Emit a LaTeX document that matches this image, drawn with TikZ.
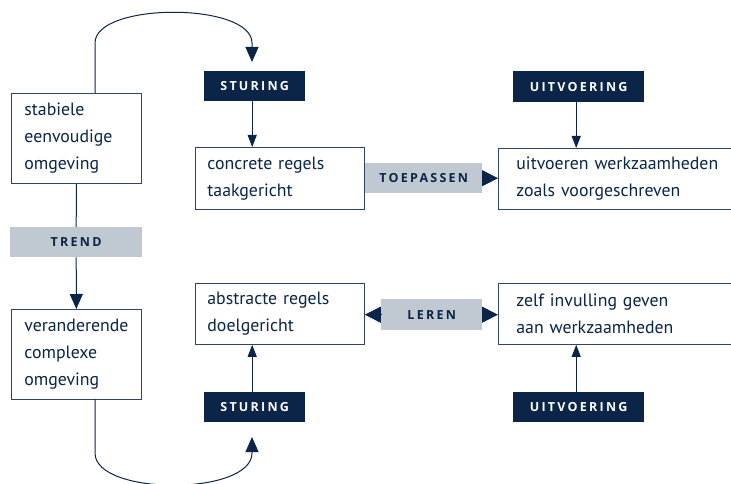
\documentclass[tikz,border=0pt]{standalone}
\usepackage{fontspec}
\setmainfont{PT Sans}
\newfontfamily\labfont{Open Sans}
\usetikzlibrary{arrows.meta}
\definecolor{navy}{RGB}{10,37,72}
\definecolor{lgrey}{RGB}{192,200,210}
\begin{document}
\begin{tikzpicture}[x=1pt,y=-1pt,
  box/.style={draw=navy!85, line width=0.8pt, fill=white, anchor=north west, align=left,
    text=navy, inner ysep=0pt, font=\fontsize{17.8}{27}\selectfont},
  darklab/.style={fill=navy, text=white, anchor=north west, inner sep=0pt,
    font=\labfont\fontsize{12.5}{13}\selectfont\bfseries\addfontfeature{LetterSpace=18}},
  greylab/.style={darklab, fill=lgrey, text=navy},
  conn/.style={draw=navy, line width=1pt},
  bigtip/.style={conn, -{Triangle[length=15pt,width=13pt]}},
  smalltip/.style={conn, -{Triangle[length=12pt,width=9pt]}},
  sidetip/.style={conn, -{Triangle[length=16pt,width=16pt]}}
]
\useasboundingbox (0,0) rectangle (731,484);

% boxes
\node[box, minimum width=130pt, minimum height=90pt, inner xsep=13pt, text width=104pt] (b1) at (11,93) {stabiele\\eenvoudige\\omgeving};
\node[box, minimum width=130pt, minimum height=90pt, inner xsep=13pt, text width=104pt] (b2) at (11,309) {veranderende\\complexe\\omgeving};
\node[box, minimum width=169pt, minimum height=62pt, inner xsep=12pt, text width=145pt] (c1) at (195,147) {concrete regels\\taakgericht};
\node[box, minimum width=250pt, minimum height=61pt, inner xsep=18pt, text width=214pt] (r1) at (498,148) {uitvoeren werkzaamheden\\zoals voorgeschreven};
\node[box, minimum width=169pt, minimum height=61pt, inner xsep=12pt, text width=145pt] (a1) at (195,283) {abstracte regels\\doelgericht};
\node[box, minimum width=250pt, minimum height=61pt, inner xsep=18pt, text width=214pt] (r2) at (498,283) {zelf invulling geven\\aan werkzaamheden};

% labels
\node[greylab, minimum width=132pt, minimum height=30pt] (trend) at (10,227) {TREND};
\node[darklab, minimum width=101pt, minimum height=30pt] (s1) at (204,71) {STURING};
\node[darklab, minimum width=131pt, minimum height=31pt] (u1) at (513,71) {UITVOERING};
\node[greylab, minimum width=117pt, minimum height=30pt] (toep) at (365,163) {TOEPASSEN};
\node[greylab, minimum width=101pt, minimum height=31pt] (leren) at (381,299) {LEREN};
\node[darklab, minimum width=101pt, minimum height=30pt] (s2) at (204,392) {STURING};
\node[darklab, minimum width=131pt, minimum height=30pt] (u2) at (513,392) {UITVOERING};

% connectors
\draw[conn] (b1) -- (trend);
\draw[bigtip] (trend) -- (b2);

\coordinate (topstart) at (95,93);
\coordinate (topend) at (252,62);
\draw[bigtip] (topstart) -- (95,43) .. controls (95,2) and (252,2) .. (252,43) -- (topend);

\coordinate (botstart) at (95,399);
\coordinate (botend) at (252,437);
\draw[bigtip] (botstart) -- (95,453) .. controls (95,496) and (252,496) .. (252,453) -- (botend);

\draw[smalltip] ([xshift=-2.5pt]s1.south) -- ([xshift=-2.5pt]s1.south |- c1.north);
\draw[smalltip] ([xshift=-2.5pt]u1.south) -- ([xshift=-2.5pt]u1.south |- r1.north);
\draw[smalltip] ([xshift=-2.5pt]s2.north) -- ([xshift=-2.5pt]s2.north |- a1.south);
\draw[smalltip] ([xshift=-2.5pt]u2.north) -- ([xshift=-2.5pt]u2.north |- r2.south);

\draw[sidetip] (toep.east) -- (r1.west |- toep.east);
\draw[sidetip] (leren.west) -- (a1.east |- leren.west);
\draw[sidetip] (leren.east) -- (r2.west |- leren.east);
\end{tikzpicture}
\end{document}
